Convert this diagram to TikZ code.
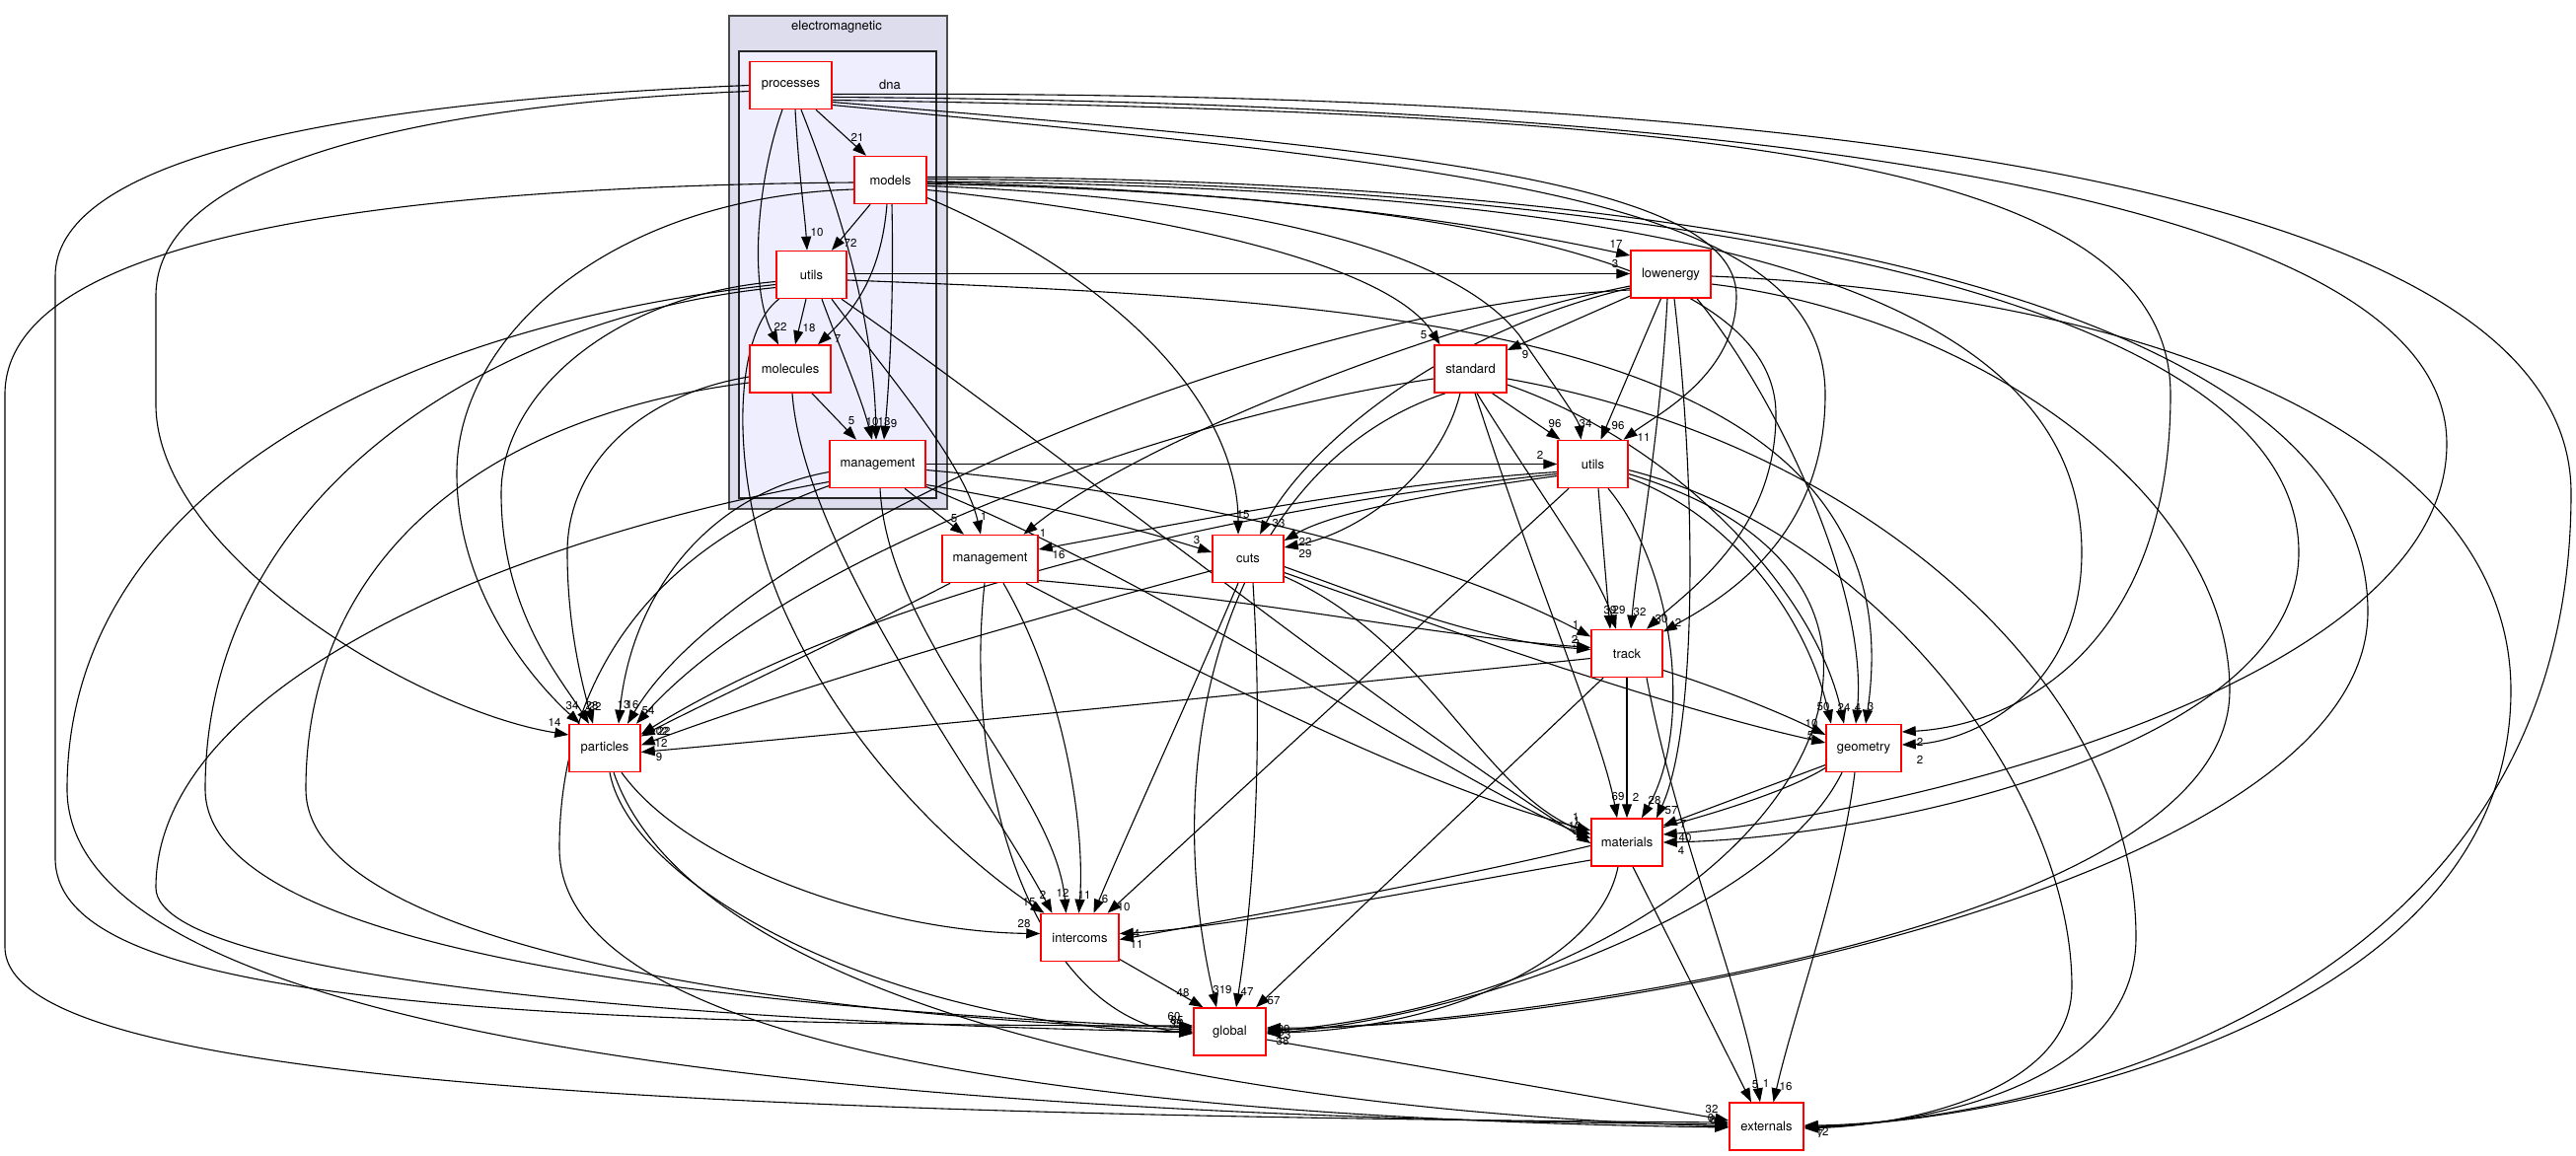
\documentclass[tikz,border=0pt]{standalone}
\usepackage{fontspec}
\setmainfont{TeX Gyre Heros}
\usetikzlibrary{arrows.meta}
\definecolor{clA}{HTML}{DDDDEE}
\definecolor{clB}{HTML}{EEEEFF}
\pgfdeclarelayer{bglayer}
\pgfdeclarelayer{edgelayer}
\pgfsetlayers{bglayer,edgelayer,main}
\newcommand\dirfont{\fontsize{13pt}{15pt}\selectfont}
\newcommand\edgefont{\fontsize{11.5pt}{13pt}\selectfont}
\begin{document}
\begin{tikzpicture}[x=1pt,y=-1pt,
  dir/.style={draw=red, fill=white, line width=1.5pt, minimum height=48pt, inner sep=0pt, font=\dirfont},
  e/.style={line width=1.1pt, -{Triangle[length=14pt,width=10pt]}},
  lbl/.style={font=\edgefont, inner sep=0pt}]
\useasboundingbox (0,0) rectangle (2611,1172);
\begin{pgfonlayer}{bglayer}
\fill[white] (0,0) rectangle (2611,1172);
\draw[draw=black!70, fill=clA, line width=1.6pt] (739,16) rectangle (960,516);
\draw[draw=black!85, fill=clB, line width=1.6pt] (749,52) rectangle (949,505);
\end{pgfonlayer}
\node[font=\dirfont] (emlabel) at (848,27) {electromagnetic};
\node[font=\dirfont] (dnalabel) at (902,86) {dna};
% nodes
\node[dir, minimum width=83pt] (P) at (801.5,86.5) {processes};
\node[dir, minimum width=73pt] (Mo) at (902.5,182.5) {models};
\node[dir, minimum width=71pt] (UD) at (822.5,278.5) {utils};
\node[dir, minimum width=82pt] (Mc) at (801,374) {molecules};
\node[dir, minimum width=97pt] (MD) at (889.5,470.5) {management};
\node[dir, minimum width=81pt] (LE) at (1693.5,278) {lowenergy};
\node[dir, minimum width=73pt] (ST) at (1490.5,374) {standard};
\node[dir, minimum width=71pt] (UR) at (1614.5,470.5) {utils};
\node[dir, minimum width=97pt] (MG) at (1003.5,566.5) {management};
\node[dir, minimum width=72pt] (CU) at (1265,566.5) {cuts};
\node[dir, minimum width=72pt] (TR) at (1649,662.5) {track};
\node[dir, minimum width=72pt] (PA) at (613,758.5) {particles};
\node[dir, minimum width=76pt] (GE) at (1889,758.5) {geometry};
\node[dir, minimum width=72pt] (MA) at (1649,854) {materials};
\node[dir, minimum width=79pt] (IN) at (1094.5,950.5) {intercoms};
\node[dir, minimum width=73pt] (GL) at (1246.5,1046) {global};
\node[dir, minimum width=75pt] (EX) at (1790.5,1142) {externals};
\begin{pgfonlayer}{edgelayer}
% inside dna
\draw[e] ([xshift=25.5pt]P.south) -- ([xshift=-24.5pt]Mo.north) node[lbl,at={(869,139)}]{21};
\draw[e] ([xshift=4.5pt]P.south) .. controls (810,180) and (816,220) .. ([xshift=-4.5pt]UD.north) node[lbl,at={(828,236)}]{10};
\draw[e] ([xshift=-8.5pt]P.south) .. controls (768,180) and (758,290) .. ([xshift=-12pt]Mc.north) node[lbl,at={(791,331)}]{22};
\draw[e] ([xshift=10.5pt]P.south) .. controls (855,220) and (886,330) .. ([xshift=-1.5pt]MD.north) node[lbl,at={(884,428)}]{10};
\draw[e] ([xshift=-20.5pt]Mo.south) -- ([xshift=20.5pt]UD.north) node[lbl,at={(862,246)}]{72};
\draw[e] ([xshift=-3.5pt]Mo.south) .. controls (893,280) and (865,315) .. ([xshift=28pt]Mc.north) node[lbl,at={(849,344)}]{7};
\draw[e] ([xshift=1.5pt]Mo.south) .. controls (906,300) and (902,380) .. ([xshift=6.5pt]MD.north) node[lbl,at={(906,430)}]{9};
\draw[e] ([xshift=-5.5pt]UD.south) -- ([xshift=5pt]Mc.north) node[lbl,at={(820,333)}]{18};
\draw[e] ([xshift=10.5pt]UD.south) .. controls (850,350) and (872,400) .. ([xshift=-5.5pt]MD.north) node[lbl,at={(896,428)}]{13};
\draw[e] ([xshift=22pt]Mc.south) -- ([xshift=-21.5pt]MD.north) node[lbl,at={(863,427)}]{5};
% lowenergy, standard, utils
\draw[e] ([yshift=1pt]UD.east) -- ([yshift=0.5pt]LE.west) node[lbl,at={(1637,268)}]{3};
\draw[e] ([yshift=-2.5pt]Mo.east) .. controls (1200,190) and (1450,215) .. ([yshift=19pt]LE.west) node[lbl,at={(1638,247)}]{17};
\draw[e] ([yshift=-10pt]Mo.east) .. controls (1200,220) and (1410,270) .. ([xshift=-31pt]ST.north) node[lbl,at={(1443,340)}]{5};
\draw[e] ([yshift=-6pt]Mo.east) .. controls (1250,200) and (1470,250) .. (1540,340) .. controls (1578,395) and (1600,425) .. ([xshift=-12pt]UR.north) node[lbl,at={(1607,430)}]{34};
\draw[e] ([xshift=22pt]ST.south) -- ([xshift=-33pt]UR.north) node[lbl,at={(1576,430)}]{96};
\draw[e] ([xshift=-10pt]LE.south) -- ([xshift=8pt]UR.north) node[lbl,at={(1640,432)}]{96};
\draw[e] ([yshift=-17pt]P.east) .. controls (1400,150) and (1760,180) .. (1760,300) .. controls (1760,380) and (1680,420) .. ([xshift=31pt]UR.north) node[lbl,at={(1666,443)}]{11};
\draw[e] (MD.east) -- (UR.west) node[lbl,at={(1561,461)}]{2};
\draw[e] ([yshift=-22pt]LE.west) -- ([yshift=19pt]ST.east) node[lbl,at={(1546,360)}]{9};
% management, cuts
\draw[e] ([xshift=27.5pt]MD.south) -- ([xshift=-26.5pt]MG.north) node[lbl,at={(967,526)}]{5};
\draw[e] ([xshift=20.5pt]UD.south) .. controls (900,380) and (978,470) .. ([xshift=-9.5pt]MG.north) node[lbl,at={(997,523)}]{1};
\draw[e] ([yshift=-12pt]LE.west) .. controls (1450,330) and (1150,450) .. ([xshift=34pt]MG.north) node[lbl,at={(1057,540)}]{1};
\draw[e] ([yshift=-8pt]UR.west) .. controls (1400,490) and (1200,530) .. ([yshift=9.5pt]MG.east) node[lbl,at={(1073,563)}]{16};
\draw[e] ([yshift=-18pt]Mo.east) .. controls (1150,290) and (1255,420) .. ([xshift=-10pt]CU.north) node[lbl,at={(1260,522)}]{15};
\draw[e] ([yshift=-14pt]LE.west) .. controls (1450,340) and (1320,460) .. ([xshift=12pt]CU.north) node[lbl,at={(1296,531)}]{33};
\draw[e] ([yshift=-21pt]MD.east) .. controls (1050,510) and (1150,535) .. ([yshift=6.5pt]CU.west) node[lbl,at={(1213,548)}]{3};
\draw[e] ([yshift=-12pt]UR.west) .. controls (1450,500) and (1350,520) .. ([yshift=18.5pt]CU.east) node[lbl,at={(1323,549)}]{22};
\draw[e] ([xshift=-10.5pt]ST.south) .. controls (1460,480) and (1380,540) .. ([yshift=11.5pt]CU.east) node[lbl,at={(1323,562)}]{29};
% track
\draw[e] ([xshift=5.5pt]UR.south) -- ([xshift=-17pt]TR.north) node[lbl,at={(1632,619)}]{39};
\draw[e] ([xshift=6.5pt]ST.south) .. controls (1560,500) and (1620,580) .. ([xshift=-11pt]TR.north) node[lbl,at={(1641,619)}]{29};
\draw[e] ([xshift=-3.5pt]LE.south) .. controls (1682,450) and (1660,560) .. ([xshift=4pt]TR.north) node[lbl,at={(1662,621)}]{32};
\draw[e] ([yshift=-4pt]Mo.east) .. controls (1400,195) and (1800,250) .. (1800,420) .. controls (1800,540) and (1710,600) .. ([xshift=20pt]TR.north) node[lbl,at={(1684,628)}]{30};
\draw[e] ([yshift=-20pt]P.east) .. controls (1500,170) and (1850,200) .. (1850,400) .. controls (1850,550) and (1740,610) .. ([yshift=22pt]TR.east) node[lbl,at={(1701,631)}]{2};
\draw[e] ([yshift=-6pt]MD.east) .. controls (1200,500) and (1450,560) .. ([yshift=17pt]TR.west) node[lbl,at={(1597,633)}]{1};
\draw[e] ([yshift=-22pt]MG.east) .. controls (1300,610) and (1450,645) .. ([yshift=6pt]TR.west) node[lbl,at={(1596,648)}]{2};
\draw[e] ([yshift=-8pt]CU.east) .. controls (1400,610) and (1500,650) .. ([yshift=4pt]TR.west) node[lbl,at={(1598,653)}]{3};
% particles
\draw[e] ([yshift=-6pt]P.west) .. controls (450,105) and (158,160) .. (158,300) -- (158,410) .. controls (158,560) and (420,720) .. ([yshift=13.5pt]PA.west) node[lbl,at={(562,732)}]{14};
\draw[e] ([yshift=-9.5pt]Mo.west) .. controls (620,200) and (463,340) .. (463,480) .. controls (463,600) and (540,690) .. ([xshift=-25pt]PA.north) node[lbl,at={(580,716)}]{34};
\draw[e] ([yshift=-7pt]UD.west) .. controls (620,300) and (508,400) .. (508,500) .. controls (508,620) and (570,690) .. ([xshift=-16pt]PA.north) node[lbl,at={(600,716)}]{28};
\draw[e] ([yshift=-8pt]Mc.west) .. controls (650,400) and (575,470) .. (575,560) .. controls (575,640) and (592,700) .. ([xshift=-12pt]PA.north) node[lbl,at={(603,716)}]{22};
\draw[e] ([yshift=-8pt]MD.west) .. controls (720,500) and (640,600) .. ([xshift=14pt]PA.north) node[lbl,at={(632,715)}]{13};
\draw[e] ([yshift=-16pt]LE.west) .. controls (1300,310) and (750,540) .. ([xshift=23pt]PA.north) node[lbl,at={(641,715)}]{16};
\draw[e] ([yshift=-10pt]ST.west) .. controls (1200,420) and (800,560) .. ([xshift=32pt]PA.north) node[lbl,at={(657,721)}]{54};
\draw[e] ([yshift=-10pt]UR.west) .. controls (1200,520) and (850,620) .. ([yshift=14pt]PA.east) node[lbl,at={(668,742)}]{102};
\draw[e] ([xshift=-40.5pt]MG.south) .. controls (850,650) and (720,710) .. ([yshift=12pt]PA.east) node[lbl,at={(673,741)}]{22};
\draw[e] ([yshift=-12pt]CU.west) .. controls (1000,640) and (800,700) .. ([yshift=3pt]PA.east) node[lbl,at={(670,753)}]{12};
\draw[e] ([yshift=-5pt]TR.west) .. controls (1300,700) and (900,740) .. ([yshift=-4pt]PA.east) node[lbl,at={(668,768)}]{9};
% geometry
\draw[e] ([yshift=-14pt]UR.east) .. controls (1750,520) and (1830,620) .. ([xshift=-33pt]GE.north) node[lbl,at={(1848,717)}]{50};
\draw[e] ([yshift=-16pt]ST.east) .. controls (1700,450) and (1840,600) .. ([xshift=-20pt]GE.north) node[lbl,at={(1869,717)}]{24};
\draw[e] ([xshift=26.5pt]LE.south) .. controls (1800,400) and (1895,600) .. ([xshift=-8pt]GE.north) node[lbl,at={(1883,717)}]{4};
\draw[e] ([yshift=-5.5pt]UD.east) .. controls (1400,305) and (1950,330) .. ([xshift=2pt]GE.north) node[lbl,at={(1896,717)}]{3};
\draw[e] ([yshift=-17pt]TR.east) .. controls (1750,700) and (1810,725) .. ([yshift=13.5pt]GE.west) node[lbl,at={(1836,734)}]{10};
\draw[e] ([yshift=-14pt]CU.east) .. controls (1500,650) and (1700,720) .. ([yshift=5.5pt]GE.west) node[lbl,at={(1835,746)}]{5};
\draw[e] ([yshift=-15pt]P.east) .. controls (1700,115) and (2200,150) .. (2200,400) .. controls (2200,650) and (2050,735) .. ([yshift=16.5pt]GE.east) node[lbl,at={(1946,752)}]{2};
\draw[e] ([yshift=-1.5pt]Mo.east) .. controls (1600,190) and (2110,260) .. (2110,560) .. controls (2110,700) and (2000,752) .. ([yshift=3.5pt]GE.east) node[lbl,at={(1946,770)}]{2};
% materials
\draw[e] ([xshift=4.5pt]ST.south) .. controls (1560,600) and (1625,750) .. ([xshift=-10pt]MA.north) node[lbl,at={(1640,808)}]{69};
\draw[e] (TR.south) -- (MA.north) node[lbl,at={(1658,808)}]{2};
\draw[e] ([xshift=15.5pt]UR.south) .. controls (1700,580) and (1715,740) .. ([xshift=15pt]MA.north) node[lbl,at={(1677,812)}]{28};
\draw[e] ([xshift=3.5pt]LE.south) .. controls (1720,500) and (1720,740) .. ([xshift=30pt]MA.north) node[lbl,at={(1694,822)}]{57};
\draw[e] ([xshift=36.5pt]MG.south) .. controls (1250,700) and (1450,800) .. ([yshift=12pt]MA.west) node[lbl,at={(1597,828)}]{1};
\draw[e] ([yshift=-18pt]CU.east) .. controls (1450,650) and (1500,800) .. ([yshift=8pt]MA.west) node[lbl,at={(1598,832)}]{1};
\draw[e] ([yshift=-23pt]MD.east) .. controls (1200,600) and (1450,780) .. ([yshift=4pt]MA.west) node[lbl,at={(1596,838)}]{10};
\draw[e] ([xshift=30.5pt]UD.south) .. controls (1050,440) and (1400,720) .. ([yshift=-1pt]MA.west) node[lbl,at={(1597,843)}]{6};
\draw[e] ([yshift=-17pt]GE.west) -- ([yshift=17pt]MA.east) node[lbl,at={(1706,836)}]{7};
\draw[e] ([yshift=-12pt]P.east) .. controls (1800,105) and (2480,200) .. (2480,450) .. controls (2480,700) and (1900,830) .. ([yshift=8pt]MA.east) node[lbl,at={(1708,850)}]{40};
\draw[e] ([yshift=1pt]Mo.east) .. controls (1700,185) and (2330,300) .. (2330,560) .. controls (2330,760) and (1900,850) .. (MA.east) node[lbl,at={(1704,862)}]{4};
% intercoms
\draw[e] ([xshift=-33pt]UD.south) .. controls (740,340) and (738,500) .. (800,630) .. controls (870,780) and (990,880) .. ([xshift=-36pt]IN.north) node[lbl,at={(1043,915)}]{15};
\draw[e] ([xshift=2pt]Mc.south) .. controls (815,560) and (1000,800) .. ([xshift=-28pt]IN.north) node[lbl,at={(1057,907)}]{2};
\draw[e] ([xshift=2.5pt]MD.south) .. controls (900,650) and (1070,800) .. ([xshift=-14pt]IN.north) node[lbl,at={(1077,905)}]{12};
\draw[e] ([xshift=13.5pt]MG.south) .. controls (1080,700) and (1100,840) .. ([xshift=-1pt]IN.north) node[lbl,at={(1099,907)}]{11};
\draw[e] ([xshift=-10pt]CU.south) .. controls (1200,720) and (1140,850) .. ([xshift=14pt]IN.north) node[lbl,at={(1120,912)}]{6};
\draw[e] ([xshift=-24.5pt]UR.south) -- ([xshift=28pt]IN.north) node[lbl,at={(1139,920)}]{10};
\draw[e] ([xshift=17pt]PA.south) .. controls (700,880) and (900,945) .. ([yshift=4pt]IN.west) node[lbl,at={(1038,937)}]{28};
\draw[e] ([yshift=-18pt]MA.west) .. controls (1450,900) and (1250,940) .. ([yshift=4pt]IN.east) node[lbl,at={(1152,946)}]{4};
\draw[e] ([yshift=-20pt]GE.west) .. controls (1750,840) and (1400,905) .. ([yshift=-2pt]IN.east) node[lbl,at={(1152,957)}]{11};
% global
\draw[e] ([yshift=-22pt]IN.east) -- ([xshift=-27pt]GL.north) node[lbl,at={(1199,1006)}]{48};
\draw[e] ([xshift=-25.5pt]ST.south) .. controls (1250,470) and (1170,750) .. ([xshift=-13.5pt]GL.north) node[lbl,at={(1239,1003)}]{319};
\draw[e] ([xshift=5pt]CU.south) .. controls (1280,750) and (1272,900) .. ([xshift=6.5pt]GL.north) node[lbl,at={(1264,1005)}]{47};
\draw[e] ([xshift=-24pt]TR.south) -- ([xshift=26.5pt]GL.north) node[lbl,at={(1291,1015)}]{57};
\draw[e] (P.west) .. controls (300,105) and (56,170) .. (56,280) -- (56,870) .. controls (56,1000) and (400,1040) .. ([yshift=6pt]GL.west);
\draw[e] ([yshift=-13pt]UD.west) .. controls (500,320) and (208,500) .. (208,800) .. controls (208,960) and (700,1020) .. ([yshift=4pt]GL.west);
\draw[e] ([yshift=-14pt]Mc.west) .. controls (500,420) and (310,560) .. (310,800) .. controls (310,960) and (800,1030) .. ([yshift=2pt]GL.west);
\draw[e] ([yshift=-18pt]MD.west) .. controls (500,550) and (158,700) .. (158,900) .. controls (158,1000) and (800,1040) .. (GL.west);
\draw[e] ([xshift=5pt]PA.south) .. controls (640,900) and (900,1040) .. ([yshift=-1pt]GL.west);
\draw[e] ([xshift=-5.5pt]MG.south) .. controls (975,800) and (1050,1030) .. ([yshift=-2pt]GL.west) node[lbl,at={(1190,1030)}]{60} node[lbl,at={(1193,1034)}]{85} node[lbl,at={(1192,1038)}]{35};
\draw[e] ([yshift=-10pt]LE.east) .. controls (2000,320) and (2260,500) .. (2260,700) .. controls (2260,950) and (1500,1040) .. ([yshift=2pt]GL.east);
\draw[e] ([yshift=-10pt]UR.east) .. controls (2050,600) and (1800,1000) .. (GL.east);
\draw[e] ([xshift=-22pt]GE.south) .. controls (1800,920) and (1500,1030) .. ([yshift=-2pt]GL.east);
\draw[e] ([xshift=-9pt]MA.south) .. controls (1620,980) and (1450,1045) .. ([yshift=-1pt]GL.east);
\draw[e] ([yshift=3pt]Mo.east) .. controls (1800,180) and (2400,320) .. (2400,620) .. controls (2400,900) and (1600,1045) .. ([yshift=4pt]GL.east) node[lbl,at={(1301,1043)}]{29} node[lbl,at={(1302,1049)}]{23} node[lbl,at={(1300,1055)}]{38};
% externals
\draw[e] ([yshift=-8pt]GL.east) -- ([yshift=6pt]EX.west) node[lbl,at={(1735,1124)}]{32};
\draw[e] ([xshift=6pt]MA.south) -- ([xshift=-15.5pt]EX.north) node[lbl,at={(1779,1100)}]{5};
\draw[e] ([xshift=20pt]TR.south) .. controls (1700,850) and (1765,1000) .. ([xshift=-6.5pt]EX.north) node[lbl,at={(1790,1098)}]{1};
\draw[e] ([xshift=-9pt]GE.south) .. controls (1865,900) and (1820,1020) .. ([xshift=7pt]EX.north) node[lbl,at={(1810,1101)}]{16};
\draw[e] ([yshift=-2.5pt]Mo.west) .. controls (300,190) and (5,260) .. (5,400) -- (5,960) .. controls (5,1090) and (600,1130) .. ([yshift=4pt]EX.west);
\draw[e] ([yshift=-10pt]UD.west) .. controls (400,330) and (68,500) .. (68,800) .. controls (68,1060) and (900,1132) .. ([yshift=2pt]EX.west);
\draw[e] ([xshift=9pt]PA.south) .. controls (700,1010) and (1200,1125) .. (EX.west);
\draw[e] ([yshift=-22pt]MD.west) .. controls (650,560) and (567,700) .. (567,860) .. controls (567,1080) and (1200,1135) .. ([yshift=-1pt]EX.west) node[lbl,at={(1734,1133)}]{0} node[lbl,at={(1736,1135)}]{6};
\draw[e] ([yshift=-9pt]P.east) .. controls (1900,90) and (2606,200) .. (2606,500) .. controls (2606,1050) and (2000,1140) .. ([yshift=1pt]EX.east);
\draw[e] ([yshift=-2pt]LE.east) .. controls (2200,300) and (2545,450) .. (2545,700) .. controls (2545,1050) and (2000,1140) .. (EX.east);
\draw[e] ([yshift=-10pt]ST.east) .. controls (1900,450) and (2165,700) .. (2165,950) .. controls (2165,1100) and (1950,1140) .. ([yshift=-1pt]EX.east);
\draw[e] ([yshift=-6pt]UR.east) .. controls (1900,540) and (2100,800) .. (2100,1000) .. controls (2100,1100) and (1950,1140) .. ([yshift=-2pt]EX.east) node[lbl,at={(1847,1147)}]{12} node[lbl,at={(1845,1149)}]{7};
\end{pgfonlayer}
\end{tikzpicture}
\end{document}
